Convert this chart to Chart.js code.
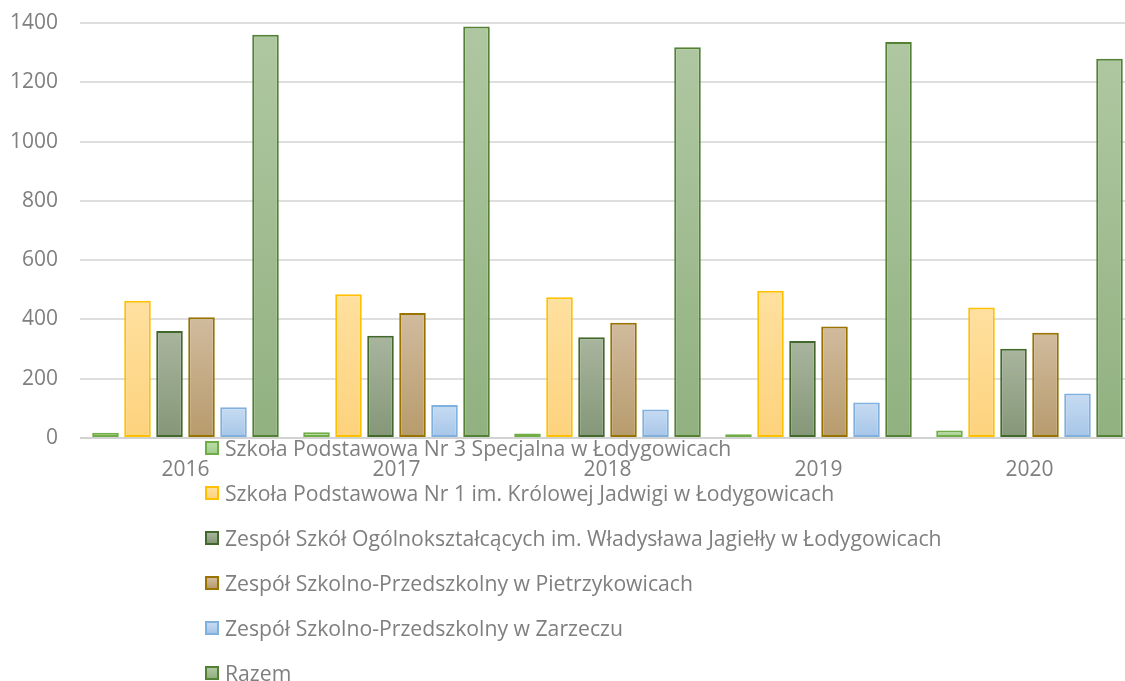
<!DOCTYPE html>
<html lang="pl">
<head>
<meta charset="utf-8">
<title>Liczba uczniów</title>
<script src="https://cdn.jsdelivr.net/npm/chart.js@4.4.1/dist/chart.umd.min.js"></script>
<style>
  html, body { margin: 0; padding: 0; background: #fff; overflow: hidden; }
  #wrap { position: relative; width: 1135px; height: 681px; }
  #legend {
    position: absolute; left: 205px; top: 425px;
    margin: 0; padding: 0; list-style: none;
    font-family: "Open Sans", sans-serif; font-size: 21.2px; color: #7f7f7f;
  }
  #legend li { height: 45px; display: flex; align-items: center; white-space: nowrap; }
  #legend .box { width: 14px; height: 14px; box-sizing: border-box; border: 2px solid; margin-right: 6px; }
</style>
</head>
<body>
<div id="wrap">
  <canvas id="chart" width="1135" height="681"></canvas>
  <ul id="legend"></ul>
</div>
<script>
// categories
const years = ['2016', '2017', '2018', '2019', '2020'];

// series values
const sp3 = [18, 19, 15, 13, 25];
const sp1 = [463, 485, 475, 497, 440];
const zso = [361, 345, 340, 327, 301];
const zspPietrzykowice = [407, 422, 389, 376, 355];
const zspZarzecze = [104, 111, 96, 120, 150];
const razem = [1360, 1388, 1318, 1336, 1279];

// y ticks
const yTicks = [0, 200, 400, 600, 800, 1000, 1200, 1400];

const labels = [
  'Szkoła Podstawowa Nr 3 Specjalna w Łodygowicach',
  'Szkoła Podstawowa Nr 1 im. Królowej Jadwigi w Łodygowicach',
  'Zespół Szkół Ogólnokształcących im. Władysława Jagiełły w Łodygowicach',
  'Zespół Szkolno-Przedszkolny w Pietrzykowicach',
  'Zespół Szkolno-Przedszkolny w Zarzeczu',
  'Razem'
];

// fill top, fill bottom, border
const styles = [
  ['#b9dba6', '#a3cf8c', '#70ad47'],
  ['#ffe09f', '#fdd27c', '#ffc000'],
  ['#a9b59e', '#849777', '#43682b'],
  ['#d1bb9e', '#b79b6c', '#997300'],
  ['#c7dbf2', '#a5c5e8', '#7fb0de'],
  ['#afc7a1', '#91b180', '#548235']
];

const FONT = '"Open Sans", sans-serif';
const GREY = '#7f7f7f';

// vertical gradient over each bar, from its top to the zero line
function barFill(top, bottom) {
  return function (ctx) {
    const chart = ctx.chart;
    const y = chart.scales.y;
    if (!chart.chartArea || !y || ctx.raw === undefined) return bottom;
    const y0 = y.getPixelForValue(ctx.raw);
    const y1 = y.getPixelForValue(0);
    if (!isFinite(y0) || !isFinite(y1) || y0 === y1) return bottom;
    const g = chart.ctx.createLinearGradient(0, y0, 0, y1);
    g.addColorStop(0, top);
    g.addColorStop(1, bottom);
    return g;
  };
}

const series = [sp3, sp1, zso, zspPietrzykowice, zspZarzecze, razem];

const datasets = series.map((values, i) => ({
  label: labels[i],
  data: values,
  backgroundColor: barFill(styles[i][0], styles[i][1]),
  borderColor: styles[i][2],
  borderWidth: 2,
  borderSkipped: false,
  categoryPercentage: 0.91,
  barPercentage: 0.83
}));

const chart = new Chart(document.getElementById('chart'), {
  type: 'bar',
  data: { labels: years, datasets },
  options: {
    responsive: false,
    animation: false,
    devicePixelRatio: 1,
    layout: { padding: { top: 23, right: 0, bottom: 0, left: 0 } },
    plugins: {
      legend: { display: false },
      tooltip: { enabled: false }
    },
    scales: {
      x: {
        grid: { display: false, drawTicks: false },
        border: { display: false },
        ticks: { color: GREY, font: { family: FONT, size: 21 }, padding: 19 },
        afterFit: (s) => { s.height = 243; }
      },
      y: {
        min: 0,
        max: 1400,
        afterBuildTicks: (s) => { s.ticks = yTicks.map(v => ({ value: v })); },
        grid: {
          drawTicks: false,
          lineWidth: 2,
          color: (c) => (c.tick && c.tick.value === 0 ? '#d2d2d2' : '#dedede')
        },
        border: { display: false },
        ticks: {
          color: GREY,
          font: { family: FONT, size: 21 },
          padding: 22,
          callback: (v) => String(v)
        },
        afterFit: (s) => {
          s.width = 80;
          // tick padding would otherwise push the plot top down
          s.paddingTop = 0;
          s.paddingBottom = 0;
        }
      }
    }
  }
});

// legend below the axis, one row per series
const legendEl = document.getElementById('legend');
datasets.forEach((d, i) => {
  const li = document.createElement('li');
  const box = document.createElement('span');
  box.className = 'box';
  box.style.borderColor = styles[i][2];
  box.style.background = `linear-gradient(${styles[i][0]}, ${styles[i][1]})`;
  const txt = document.createElement('span');
  txt.textContent = d.label;
  li.appendChild(box);
  li.appendChild(txt);
  legendEl.appendChild(li);
});
</script>
</body>
</html>
